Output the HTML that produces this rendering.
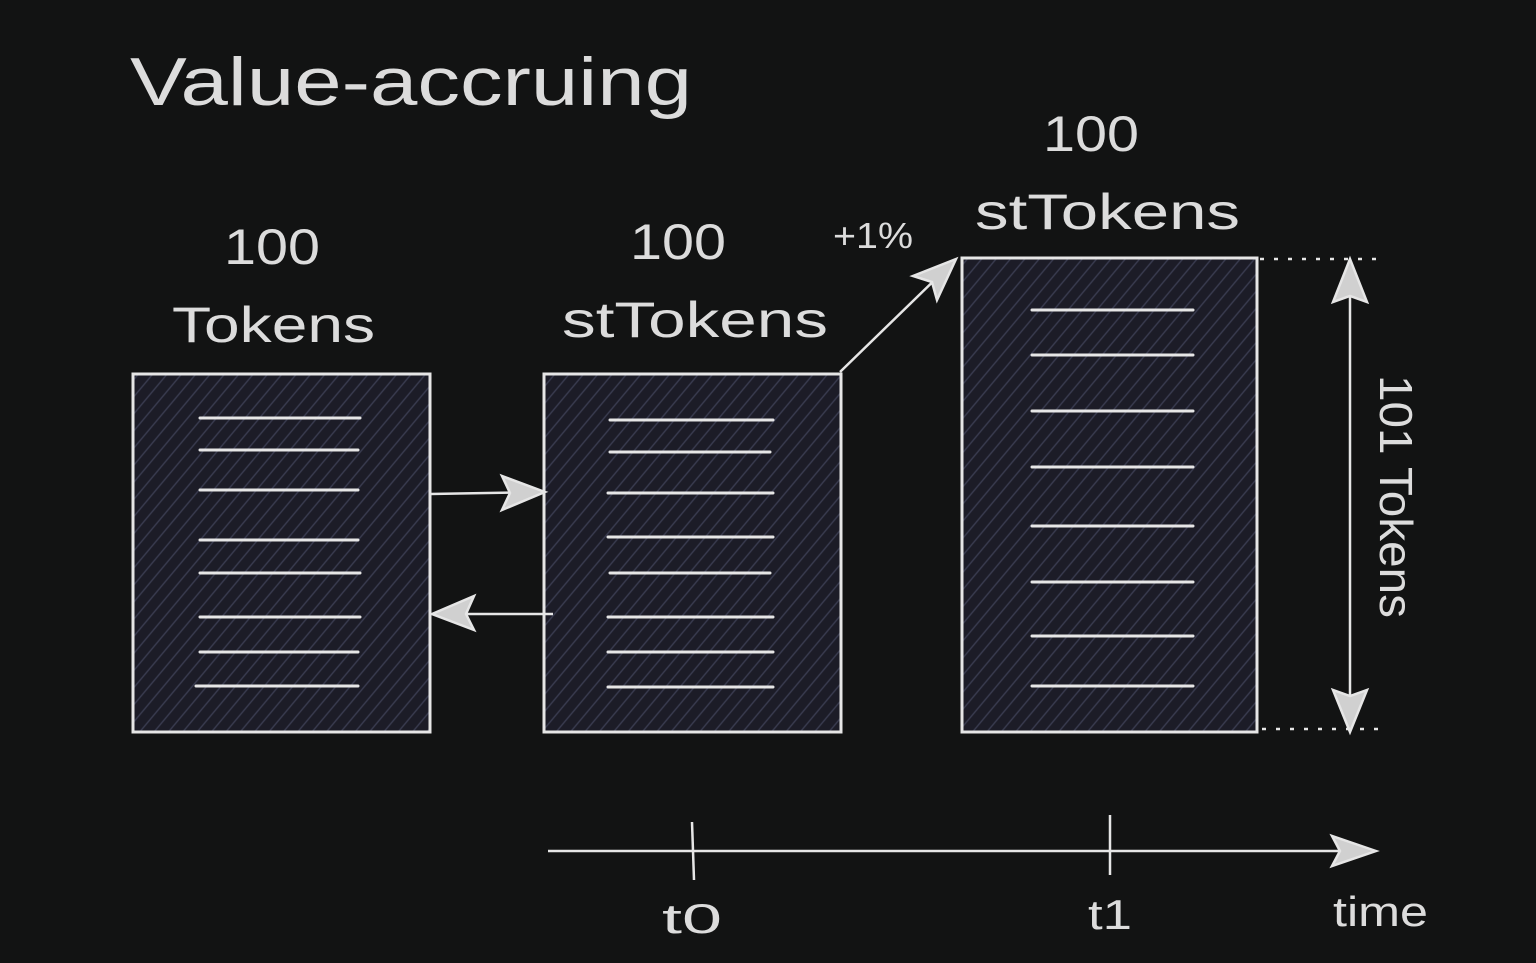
<!DOCTYPE html>
<html><head><meta charset="utf-8"><style>
html,body{margin:0;padding:0;background:#121313;}
svg{display:block}
text{font-family:"Liberation Sans",sans-serif;fill:#dcdcdc;}
</style></head><body>
<svg width="1536" height="963" viewBox="0 0 1536 963" xmlns="http://www.w3.org/2000/svg">
<defs>
<pattern id="h" width="11" height="11" patternUnits="userSpaceOnUse" patternTransform="rotate(-50)">
<rect width="11" height="11" fill="#1c1c27"/>
<line x1="0" y1="5.5" x2="11" y2="5.5" stroke="#3a3c50" stroke-width="1.4"/>
</pattern>
</defs>
<rect width="1536" height="963" fill="#121313"/>
<g stroke="#e6e6e6" stroke-width="3" fill="url(#h)">
<rect x="133" y="374" width="297" height="358"/>
<rect x="544" y="374" width="297" height="358"/>
<rect x="962" y="258" width="295" height="474"/>
</g>
<g stroke="#e6e6e6" stroke-width="3" stroke-linecap="round">
<line x1="200" y1="418" x2="360" y2="418"/><line x1="200" y1="450" x2="358" y2="450"/>
<line x1="200" y1="490" x2="358" y2="490"/><line x1="200" y1="540" x2="358" y2="540"/>
<line x1="200" y1="573" x2="360" y2="573"/><line x1="200" y1="617" x2="360" y2="617"/>
<line x1="200" y1="652" x2="358" y2="652"/><line x1="196" y1="686" x2="358" y2="686"/>
<line x1="610" y1="420" x2="773" y2="420"/><line x1="610" y1="452" x2="770" y2="452"/>
<line x1="608" y1="493" x2="773" y2="493"/><line x1="608" y1="537" x2="773" y2="537"/>
<line x1="610" y1="573" x2="770" y2="573"/><line x1="608" y1="617" x2="773" y2="617"/>
<line x1="608" y1="652" x2="773" y2="652"/><line x1="608" y1="687" x2="773" y2="687"/>
<line x1="1032" y1="310" x2="1193" y2="310"/><line x1="1032" y1="355" x2="1193" y2="355"/>
<line x1="1032" y1="411" x2="1193" y2="411"/><line x1="1032" y1="467" x2="1193" y2="467"/>
<line x1="1032" y1="526" x2="1193" y2="526"/><line x1="1032" y1="582" x2="1193" y2="582"/>
<line x1="1032" y1="636" x2="1193" y2="636"/><line x1="1032" y1="686" x2="1193" y2="686"/>
</g>
<g stroke="#e6e6e6" stroke-width="2.5" fill="#d0d0d0">
<line x1="430" y1="494" x2="540" y2="492"/>
<polygon points="545,492 502,476 510,493 502,510"/>
<line x1="553" y1="614" x2="440" y2="614"/>
<polygon points="432,614 474,596 466,614 474,630"/>
<line x1="840" y1="372" x2="950" y2="265"/>
<polygon points="956,259 913,276 932,282 937,300"/>
<line x1="1350" y1="265" x2="1350" y2="728"/>
<polygon points="1350,259 1333,302 1350,296 1367,302"/>
<polygon points="1350,732 1333,690 1350,696 1367,690"/>
<line x1="548" y1="851" x2="1365" y2="851"/>
<polygon points="1376,851 1332,836 1340,851 1332,866"/>
<line x1="692" y1="822" x2="694" y2="880"/>
<line x1="1110" y1="815" x2="1110" y2="875"/>
</g>
<g stroke="#e6e6e6" stroke-width="2.5" stroke-dasharray="4 10">
<line x1="1260" y1="259" x2="1382" y2="259"/>
<line x1="1262" y1="729" x2="1386" y2="729"/>
</g>
<text x="130" y="105" font-size="68" textLength="562" lengthAdjust="spacingAndGlyphs">Value-accruing</text>
<text x="224" y="264" font-size="50" textLength="96" lengthAdjust="spacingAndGlyphs">100</text>
<text x="172" y="342" font-size="50" textLength="203" lengthAdjust="spacingAndGlyphs">Tokens</text>
<text x="630" y="259" font-size="50" textLength="96" lengthAdjust="spacingAndGlyphs">100</text>
<text x="562" y="337" font-size="50" textLength="266" lengthAdjust="spacingAndGlyphs">stTokens</text>
<text x="1043" y="151" font-size="50" textLength="96" lengthAdjust="spacingAndGlyphs">100</text>
<text x="975" y="229" font-size="50" textLength="265" lengthAdjust="spacingAndGlyphs">stTokens</text>
<text x="833" y="248" font-size="36" textLength="80" lengthAdjust="spacingAndGlyphs">+1%</text>
<text x="662" y="933" font-size="42" textLength="60" lengthAdjust="spacingAndGlyphs">t0</text>
<text x="1088" y="929" font-size="42" textLength="44" lengthAdjust="spacingAndGlyphs">t1</text>
<text x="1333" y="926" font-size="42" textLength="95" lengthAdjust="spacingAndGlyphs">time</text>
<text transform="translate(1380,375) rotate(90)" font-size="46" textLength="243" lengthAdjust="spacingAndGlyphs">101 Tokens</text>
</svg>
</body></html>
